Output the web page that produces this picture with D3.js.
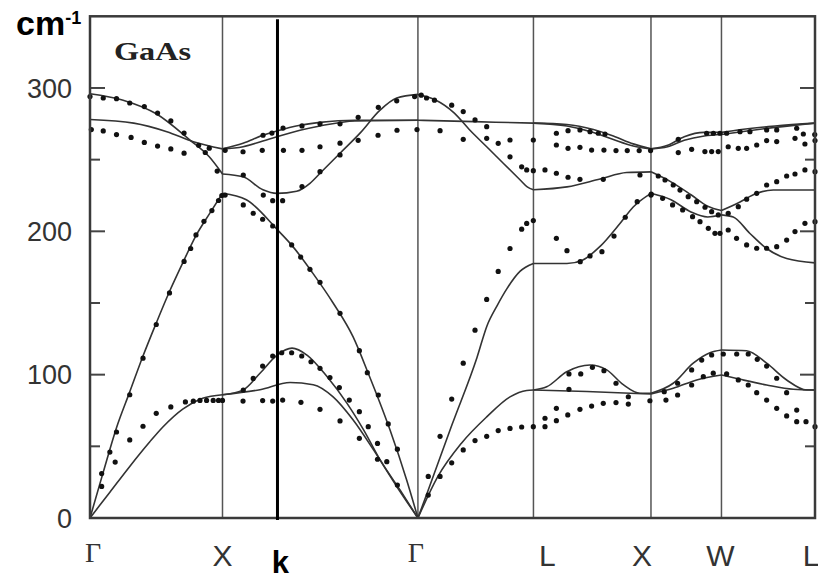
<!DOCTYPE html>
<html>
<head>
<meta charset="utf-8">
<script src="https://cdn.jsdelivr.net/npm/d3@7"></script>
<style>
  body { margin: 0; background: #fff; }
  svg { display: block; }
</style>
</head>
<body>
<div id="chart"></div>
<script>
// path through the Brillouin zone, position in units where Γ–X = 1
var symLabels = ["Γ", "X", "Γ", "L", "X", "W", "L"];
var symPos = [0, 1, 2.475, 3.347, 4.234, 4.766, 5.472];
var kPos = 1.415;
var yTicksMajor = [0, 100, 200, 300];
var yTicksMinor = [50, 150, 250];

// calculated branches: [q, frequency cm-1]
// Γ – X
var gxLO = [[0,296],[0.25,291.5],[0.5,282],[0.75,264],[0.9,252],[1,240]];
var gxTO = [[0,278],[0.33,275.5],[0.58,269.5],[0.78,262.5],[1,257.5]];
var gxLA = [[0,0],[0.1,32],[0.2,63],[0.3,88],[0.4,113],[0.5,136],[0.6,158],[0.7,178],[0.8,197],[0.9,212],[1,226.5]];
var gxTA = [[0,0],[0.15,18],[0.3,36],[0.45,53],[0.55,63.5],[0.7,76],[0.85,83.5],[1,86]];
// X – Γ
var xgLO = [[1,240],[1.155,238],[1.305,229],[1.41,226.5],[1.56,228],[1.66,233.5],[1.736,240.5],[1.887,254.5],[2.038,268.5],[2.189,284.5],[2.315,293],[2.475,295.5]];
var xgTO1 = [[1,257.5],[1.155,261.5],[1.305,267],[1.41,270],[1.585,274],[1.736,276],[2.0,277.5],[2.475,277.5]];
var xgTO2 = [[1,257.5],[1.155,259],[1.305,263],[1.41,266],[1.585,270.5],[1.736,273.5],[2.0,277],[2.475,277.5]];
var xgLA = [[1,226.5],[1.18,222],[1.415,201],[1.53,189.5],[1.68,171],[1.835,150],[1.985,126.5],[2.1,101],[2.264,61.5],[2.39,26.5],[2.475,0]];
var xgTA1 = [[1,86],[1.15,89],[1.283,101],[1.41,113.5],[1.525,118.5],[1.64,113.5],[1.79,98.5],[1.94,80],[2.065,61.5],[2.19,40.5],[2.34,19.5],[2.475,0]];
var xgTA2 = [[1,86],[1.283,89.5],[1.51,94.5],[1.685,93],[1.835,84.5],[1.985,68.5],[2.14,47.5],[2.315,22],[2.475,0]];
// Γ – L
var glLO = [[2.475,295.5],[2.6,292],[2.75,282.5],[2.868,270.5],[2.994,259],[3.119,247.5],[3.245,236],[3.3,231],[3.347,229]];
var glTO = [[2.475,277.5],[2.9,276.5],[3.347,275.5]];
var glLA = [[2.475,0],[2.551,19],[2.732,65],[2.921,112],[2.996,134],[3.072,148],[3.147,160],[3.245,172],[3.347,177.5]];
var glTA = [[2.475,0],[2.626,29],[2.802,52],[2.994,70.5],[3.17,84.5],[3.296,89],[3.347,89.3]];
// L – X
var lxTO1 = [[3.347,275.5],[3.6,274.5],[3.8,271],[3.95,266.5],[4.1,261],[4.234,257.5]];
var lxTO2 = [[3.347,275.5],[3.6,273.5],[3.8,269],[3.95,264],[4.1,259.5],[4.234,257.5]];
var lxLO = [[3.347,229],[3.6,231],[3.85,236.5],[4.05,241],[4.234,241.5]];
var lxLA = [[3.347,177.5],[3.6,177.5],[3.72,180],[3.85,189.5],[4.0,205.5],[4.1,217],[4.234,226.5]];
var lxTA1 = [[3.347,89.3],[3.447,91.5],[3.598,102],[3.774,106.7],[3.9,103.3],[4.025,93],[4.151,87],[4.234,87]];
var lxTA2 = [[3.347,89.3],[3.75,88.2],[4.234,86.5]];
// X – W
var xwTO1 = [[4.234,257.5],[4.36,260],[4.485,266],[4.636,269],[4.766,269]];
var xwTO2 = [[4.234,257.5],[4.36,259],[4.485,263.5],[4.636,266.5],[4.766,267.5]];
var xwO1 = [[4.234,241.5],[4.385,234.5],[4.536,225.5],[4.662,217.5],[4.766,214.5]];
var xwO2 = [[4.234,226.5],[4.385,222],[4.536,213.5],[4.662,210],[4.766,211.5]];
var xwTA1 = [[4.234,87],[4.402,94],[4.553,108],[4.679,115.3],[4.766,117.2]];
var xwTA2 = [[4.234,86.5],[4.402,90.5],[4.579,96.3],[4.766,99.8]];
// W – L
var wlTO1 = [[4.766,269],[4.917,271],[5.17,273.5],[5.472,275.5]];
var wlTO2 = [[4.766,267.5],[4.917,269.5],[5.17,272.5],[5.472,275.5]];
var wlO1 = [[4.766,214.5],[4.906,220.5],[5.032,226.5],[5.157,228.8],[5.472,228.8]];
var wlO2 = [[4.766,211.5],[4.855,210],[4.981,198.5],[5.107,188],[5.258,181],[5.472,178]];
var wlTA1 = [[4.766,117.2],[4.955,116.7],[5.107,108],[5.258,96.3],[5.409,89.3],[5.472,89.3]];
var wlTA2 = [[4.766,99.8],[4.906,96.8],[5.107,92.8],[5.308,89.8],[5.472,89.3]];

// measured points (neutron scattering): [q, frequency cm-1]
var expGX = [
  [0,294],[0.1,293],[0.2,292.5],[0.3,289.5],[0.41,287],[0.51,282.5],[0.61,277],[0.71,268.5],[0.82,260],[0.87,255],[0.96,242],
  [0.01,271],[0.1,270],[0.2,267.5],[0.31,265.5],[0.41,262],[0.51,259.5],[0.61,257.5],[0.71,254.5],[0.9,258],[1.02,256.5],
  [0.088,31],[0.15,46],[0.2,60],[0.3,86],[0.4,111.5],[0.5,135],[0.6,157],[0.71,179],[0.76,188],[0.8,197.5],[0.86,207],[0.92,214.5],[0.97,221.5],[0.995,225],
  [0.088,22],[0.19,39],[0.3,54.5],[0.4,64],[0.5,73],[0.61,77.5],[0.72,81],[0.78,81.5],[0.83,82],[0.88,82],[0.93,82],[0.97,82],[1.0,82]
];
var expXG = [
  [1.155,255.5],[1.3,256.5],[1.46,256.5],[1.6,256.5],[1.736,259],[1.887,261.5],[2.024,263.5],[2.174,267],[2.317,270.5],[2.468,271],
  [1.306,267],[1.373,268.5],[1.457,272],[1.6,273.5],[1.736,275],[1.887,275],[2.024,279.5],
  [1.157,239.3],[1.308,225.3],[1.379,221.4],[1.454,221.4],[1.6,231.2],[1.736,241.6],[1.887,253.3],[2.176,286.5],[2.315,291],[2.45,294],
  [1.02,225.3],[1.157,218.4],[1.232,212.6],[1.303,208.4],[1.379,203.7],[1.522,190.5],[1.59,182],[1.66,173.5],[1.736,164.4],[1.887,142.8],[2.033,116.7],[2.093,101.4],[2.176,85.8],[2.251,65.6],[2.32,48],
  [1.157,89.3],[1.232,97.4],[1.303,106],[1.379,113],[1.447,115.3],[1.522,115.3],[1.598,113],[1.668,109],[1.736,104.4],[1.811,98],[1.882,91],[1.957,82.3],[2.033,74.2],[2.1,63.7],[2.17,52],[2.24,39.3],[2.32,23],
  [1.155,81.6],[1.303,81.9],[1.379,81.6],[1.454,82.3],[1.592,80.7],[1.736,75.8],[1.887,67.7],[2.033,55.6],[2.17,41]
];
var expGL = [
  [2.5,295],[2.54,293],[2.6,291.5],[2.73,288],[2.817,283.5],[2.906,277.7],[2.994,273],[3.17,263.7],[3.346,263.7],
  [2.642,270.2],[2.817,264.2],[2.994,264.9],[3.081,261.4],[3.17,252],[3.258,245],[3.296,242.8],[3.346,242.3],
  [2.553,29],[2.642,57],[2.73,83],[2.817,108],[2.906,131],[2.994,152.5],[3.081,172],[3.17,188],[3.258,201.5],[3.296,205.5],[3.346,207.5],
  [2.553,16],[2.642,29],[2.73,38.5],[2.817,47.5],[2.906,54],[2.994,57],[3.081,61],[3.17,62.5],[3.258,63.5],[3.346,63.7]
];
var expLX = [
  [3.52,268.4],[3.608,270.2],[3.698,270.7],[3.774,269.5],[3.836,268.4],[3.887,267.9],
  [3.52,260.2],[3.608,257.9],[3.698,258.6],[3.786,256.7],[3.879,256.7],[3.97,256.3],[4.055,256.3],[4.145,256.3],[4.231,256.3],
  [3.434,242.8],[3.52,240.5],[3.608,237.7],[3.698,236.3],[3.874,236.3],[4.151,239.3],
  [3.52,195.1],[3.6,186.5],[3.7,178.8],[3.774,182.8],[3.864,185.8],[3.955,196.7],[4.04,209.8],[4.13,220.7],[4.236,226],
  [3.52,76.5],[3.615,100.5],[3.704,100.5],[3.792,105.1],[3.879,102.8],[3.97,94],[4.063,84.6],[3.615,89.8],
  [3.434,63.7],[3.434,69.6],[3.52,67.9],[3.606,71.9],[3.698,75.8],[3.786,78.1],[3.874,80],[3.97,80.5],[4.063,79.5],[4.226,81.8]
];
var expXWL = [
  [4.44,264.2],[4.654,268.4],[4.705,268.4],[4.755,268.4],[4.805,268.4],[4.906,269.5],[4.981,269.5],[5.107,270.7],[5.183,270.7],[5.334,271.9],[5.384,267.9],[5.47,267.5],
  [4.44,254.9],[4.541,257.2],[4.641,255.6],[4.692,255.6],[4.742,255.6],[4.817,259],[4.893,257.9],[4.956,257.9],[5.032,260.2],[5.107,263.3],[5.183,262.6],[5.321,264.9],[5.396,260.9],[5.472,263.3],
  [4.289,238.6],[4.34,235.8],[4.402,232.3],[4.453,228.8],[4.515,224.2],[4.579,220.7],[4.642,216.8],[4.692,213.7],[4.742,211.4],[4.817,212.6],[4.893,217.2],[4.956,222.4],[5.032,226.5],[5.107,232.3],[5.183,234.6],[5.258,238.6],[5.321,240],[5.396,242.8],[5.472,241.6],
  [4.234,225.3],[4.322,223],[4.397,218.4],[4.473,214.9],[4.548,210.2],[4.604,206.7],[4.667,202.1],[4.717,198.6],[4.755,198.6],[4.817,200.9],[4.88,195.1],[4.956,190.5],[5.032,188.2],[5.107,188.2],[5.183,189.3],[5.258,193.9],[5.321,199.8],[5.396,205.6],[5.472,206.7],
  [4.334,88.1],[4.435,94],[4.541,103.3],[4.617,110.2],[4.692,113.7],[4.78,114.4],[4.881,114.4],[4.968,114.4],[5.036,110.7],[5.107,106],[5.183,97.5],[5.258,87.4],
  [4.347,82.3],[4.435,85.8],[4.541,92.8],[4.629,98.6],[4.704,101],[4.805,100.5],[4.893,96.3],[4.968,92.8],[5.032,87.4],[5.107,82.3],[5.183,76.5],[5.258,71.2],[5.334,75.3],[5.334,67.2],[5.404,67.2],[5.472,63.7]
];

var branches = [gxLO, gxTO, gxLA, gxTA, xgLO, xgTO1, xgTO2, xgLA, xgTA1, xgTA2,
  glLO, glTO, glLA, glTA, lxTO1, lxTO2, lxLO, lxLA, lxTA1, lxTA2,
  xwTO1, xwTO2, xwO1, xwO2, xwTA1, xwTA2, wlTO1, wlTO2, wlO1, wlO2, wlTA1, wlTA2];
var measured = [].concat(expGX, expXG, expGL, expLX, expXWL);

// layout
var width = 818, height = 581;
var plot = {left: 90, right: 815, top: 16.3, bottom: 518};
var labelNudge = [3, 0, -2, 14, -9, -1, -4];

var svg = d3.select("#chart").append("svg")
  .attr("width", width)
  .attr("height", height)
  .style("background", "#fff");

var x = d3.scaleLinear().domain([0, 5.472]).range([plot.left, plot.right]);
var y = d3.scaleLinear().domain([0, 350]).range([plot.bottom, plot.top]);

// vertical lines at the symmetry points
svg.append("g").selectAll("line")
  .data(symPos.slice(1, -1))
  .enter().append("line")
  .attr("x1", d => x(d)).attr("x2", d => x(d))
  .attr("y1", y(350)).attr("y2", y(0))
  .attr("stroke", "#555").attr("stroke-width", 1.5);

// ticks, inside on both sides
var tickG = svg.append("g").attr("stroke", "#444").attr("stroke-width", 2);
yTicksMajor.concat(yTicksMinor).forEach(function(t) {
  var len = yTicksMajor.indexOf(t) >= 0 ? 15 : 10;
  tickG.append("line").attr("x1", x(0)).attr("x2", x(0) + len).attr("y1", y(t)).attr("y2", y(t));
  tickG.append("line").attr("x1", x(5.472) - len).attr("x2", x(5.472)).attr("y1", y(t)).attr("y2", y(t));
});

// calculated curves
var line = d3.line()
  .x(d => x(d[0]))
  .y(d => y(d[1]))
  .curve(d3.curveMonotoneX);
svg.append("g").selectAll("path")
  .data(branches)
  .enter().append("path")
  .attr("d", line)
  .attr("fill", "none")
  .attr("stroke", "#333")
  .attr("stroke-width", 1.6);

// measured points
svg.append("g").selectAll("circle")
  .data(measured)
  .enter().append("circle")
  .attr("cx", d => x(d[0]))
  .attr("cy", d => y(d[1]))
  .attr("r", 2.6)
  .attr("fill", "#111");

// frame
svg.append("rect")
  .attr("x", x(0)).attr("y", y(350))
  .attr("width", x(5.472) - x(0))
  .attr("height", y(0) - y(350))
  .attr("fill", "none")
  .attr("stroke", "#3a3a3a")
  .attr("stroke-width", 2.5);

// the k marker
svg.append("line")
  .attr("x1", x(kPos)).attr("x2", x(kPos))
  .attr("y1", y(348)).attr("y2", y(0) + 2)
  .attr("stroke", "#000").attr("stroke-width", 3);

// y labels
svg.append("g").selectAll("text")
  .data(yTicksMajor)
  .enter().append("text")
  .attr("x", 72)
  .attr("y", d => y(d))
  .attr("dy", "0.36em")
  .attr("text-anchor", "end")
  .attr("font-family", "Liberation Sans, Arial, sans-serif")
  .attr("font-size", 27)
  .attr("fill", "#333")
  .text(d => d);

// x labels
svg.append("g").selectAll("text")
  .data(symLabels)
  .enter().append("text")
  .attr("x", (d, i) => x(symPos[i]) + labelNudge[i])
  .attr("y", (d, i) => d === "Γ" ? 562 : 566)
  .attr("text-anchor", "middle")
  .attr("font-family", d => d === "Γ" ? "Liberation Serif, serif" : "Liberation Sans, Arial, sans-serif")
  .attr("font-size", d => d === "Γ" ? 28 : 30)
  .attr("fill", "#333")
  .text(d => d);

svg.append("text")
  .attr("x", x(kPos) + 3)
  .attr("y", 573)
  .attr("text-anchor", "middle")
  .attr("font-family", "Liberation Sans, Arial, sans-serif")
  .attr("font-weight", "bold")
  .attr("font-size", 31)
  .attr("fill", "#000")
  .text("k");

// unit label
var unit = svg.append("text")
  .attr("x", 16)
  .attr("y", 35)
  .attr("font-family", "Liberation Sans, Arial, sans-serif")
  .attr("font-weight", "bold")
  .attr("fill", "#000");
unit.append("tspan").attr("font-size", 34).text("cm");
unit.append("tspan").attr("font-size", 18).attr("dy", -11).text("-1");

svg.append("text")
  .attr("x", 114)
  .attr("y", 60)
  .attr("font-family", "Liberation Serif, Times New Roman, serif")
  .attr("font-weight", "bold")
  .attr("font-size", 25)
  .attr("textLength", 77)
  .attr("lengthAdjust", "spacingAndGlyphs")
  .attr("fill", "#222")
  .text("GaAs");
</script>
</body>
</html>
